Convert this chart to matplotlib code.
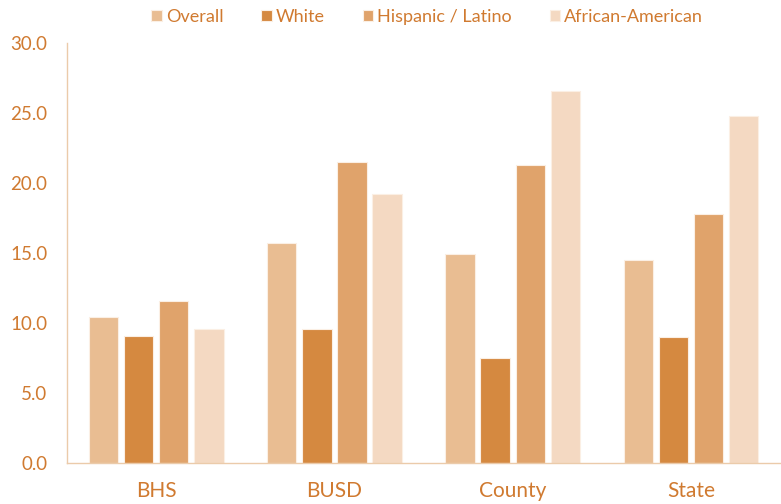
import numpy as np
import matplotlib.pyplot as plt

plt.rcParams['font.family'] = ['Lato', 'DejaVu Sans']

categories = ["BHS", "BUSD", "County", "State"]
series = ["Overall", "White", "Hispanic / Latino", "African-American"]
overall = [10.4, 15.7, 14.9, 14.5]
white = [9.1, 9.6, 7.5, 9.0]
hispanic = [11.6, 21.5, 21.3, 17.8]
african_american = [9.6, 19.2, 26.6, 24.8]
yticks = [0, 5, 10, 15, 20, 25, 30]

colors = ["#E9BD92", "#D58940", "#E0A36B", "#F4D9C2"]
text_color = "#D07A30"
axis_color = "#EBCBAA"

fig = plt.figure(figsize=(7.81, 5.04), dpi=100)
ax = fig.add_axes([0.0858, 0.0813, 0.913, 0.8334])

x = np.arange(len(categories))
step = 0.197
width = 0.165
for i, (name, vals) in enumerate(zip(series, [overall, white, hispanic, african_american])):
    ax.bar(x + (i - 1.5) * step, vals, width, color=colors[i], label=name,
           edgecolor="#FBEFE4", linewidth=0.8)

ax.set_xlim(-0.5, 3.5)
ax.set_ylim(0, 30)
ax.set_yticks(yticks)
ax.set_yticklabels([f"{v:.1f}" for v in yticks], fontsize=13.5, color=text_color)
ax.set_xticks(x)
ax.set_xticklabels(categories, fontsize=15, color=text_color)
ax.tick_params(length=0)
ax.tick_params(axis="y", pad=14)
ax.tick_params(axis="x", pad=13)

for s in ["top", "right"]:
    ax.spines[s].set_visible(False)
for s in ["left", "bottom"]:
    ax.spines[s].set_color(axis_color)
    ax.spines[s].set_linewidth(1)

leg = ax.legend(loc="upper center", bbox_to_anchor=(0.505, 1.12), ncol=4,
                frameon=False, fontsize=13, handlelength=0.6, handleheight=0.6,
                handletextpad=0.2, columnspacing=2.1, labelcolor=text_color)

fig.savefig("out.png", dpi=100)
